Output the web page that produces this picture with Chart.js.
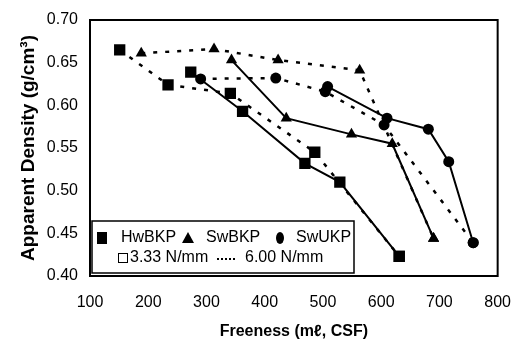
<!DOCTYPE html>
<html lang="en">
<head>
  <meta charset="UTF-8">
  <title>Apparent Density vs Freeness</title>
  <script src="https://cdn.jsdelivr.net/npm/chart.js"></script>
  <style>
    html, body { margin: 0; padding: 0; background: #fff; }
  </style>
</head>
<body>
  <canvas id="densityChart" width="520" height="344"></canvas>

  <script>
    // HwBKP
    const hw333Freeness = [273, 362, 469, 529, 631];
    const hw333Density  = [0.639, 0.593, 0.532, 0.510, 0.423];
    const hw600Freeness = [151, 234, 341, 486, 631];
    const hw600Density  = [0.665, 0.624, 0.614, 0.545, 0.423];
    // SwBKP
    const swb333Freeness = [343, 437, 549, 619, 690];
    const swb333Density  = [0.653, 0.585, 0.566, 0.555, 0.444];
    const swb600Freeness = [188, 313, 423, 563, 690];
    const swb600Density  = [0.661, 0.666, 0.653, 0.641, 0.444];
    // SwUKP
    const swu333Freeness = [508, 610, 681, 716, 758];
    const swu333Density  = [0.622, 0.585, 0.572, 0.534, 0.439];
    const swu600Freeness = [290, 419, 504, 605, 758];
    const swu600Density  = [0.631, 0.632, 0.616, 0.577, 0.439];

    const xTicks = [100, 200, 300, 400, 500, 600, 700, 800];
    const yTicks = [0.40, 0.45, 0.50, 0.55, 0.60, 0.65, 0.70];

    const FONT = "'Liberation Sans', Arial, sans-serif";

    function pts(xs, ys) {
      return xs.map((x, i) => ({ x: x, y: ys[i] }));
    }

    function serie(xs, ys, style, radius, dotted) {
      return {
        data: pts(xs, ys),
        borderColor: '#000',
        backgroundColor: '#000',
        borderWidth: dotted ? 2.5 : 2,
        borderDash: dotted ? [4, 8] : [],
        pointStyle: style,
        pointRadius: radius,
        pointBorderWidth: 0,
        pointBackgroundColor: '#000',
        showLine: true,
        tension: 0
      };
    }

    // box round the plot + legend box
    const frame = {
      id: 'frame',
      afterDatasetsDraw(chart) {
        const ctx = chart.ctx;
        const a = chart.chartArea;
        ctx.save();
        ctx.strokeStyle = '#000';
        ctx.lineWidth = 2;
        ctx.strokeRect(a.left, a.top, a.right - a.left, a.bottom - a.top);

        // legend
        ctx.fillStyle = '#fff';
        ctx.fillRect(92, 221, 262, 52);
        ctx.lineWidth = 1.5;
        ctx.strokeRect(92, 221, 262, 52);

        ctx.fillStyle = '#000';
        ctx.font = '16px ' + FONT;
        ctx.textBaseline = 'middle';
        const r1 = 238, r2 = 258;

        ctx.fillRect(97, r1 - 6, 10, 12);
        ctx.fillText('HwBKP', 121, r1);

        ctx.beginPath();
        ctx.moveTo(188, r1 - 6);
        ctx.lineTo(194, r1 + 5);
        ctx.lineTo(182, r1 + 5);
        ctx.closePath();
        ctx.fill();
        ctx.fillText('SwBKP', 206, r1);

        ctx.beginPath();
        ctx.ellipse(280, r1, 4, 6, 0, 0, Math.PI * 2);
        ctx.fill();
        ctx.fillText('SwUKP', 296, r1);

        ctx.lineWidth = 1;
        ctx.strokeRect(118.5, r2 - 4.5, 9, 9);
        ctx.fillText('3.33 N/mm', 130, r2);

        ctx.lineWidth = 2;
        ctx.setLineDash([2, 2]);
        ctx.beginPath();
        ctx.moveTo(217, r2 + 1);
        ctx.lineTo(237, r2 + 1);
        ctx.stroke();
        ctx.setLineDash([]);
        ctx.fillText('6.00 N/mm', 245, r2);
        ctx.restore();
      }
    };

    new Chart(document.getElementById('densityChart'), {
      type: 'scatter',
      data: {
        datasets: [
          serie(hw333Freeness, hw333Density, 'rect', 8, false),
          serie(hw600Freeness, hw600Density, 'rect', 8, true),
          serie(swb333Freeness, swb333Density, 'triangle', 6.5, false),
          serie(swb600Freeness, swb600Density, 'triangle', 6.5, true),
          serie(swu333Freeness, swu333Density, 'circle', 5.5, false),
          serie(swu600Freeness, swu600Density, 'circle', 5.5, true)
        ]
      },
      options: {
        responsive: false,
        animation: false,
        layout: { padding: { left: 0, right: 17, top: 20, bottom: 0 } },
        plugins: {
          legend: { display: false },
          tooltip: { enabled: false }
        },
        scales: {
          x: {
            type: 'linear',
            min: 100,
            max: 800,
            afterBuildTicks: s => { s.ticks = xTicks.map(v => ({ value: v })); },
            afterFit: s => { s.height = 68; },
            grid: { display: false },
            border: { display: false },
            ticks: {
              color: '#000',
              font: { family: FONT, size: 16 },
              padding: 9
            },
            title: {
              display: true,
              text: 'Freeness (m\u2113, CSF)',
              color: '#000',
              font: { family: FONT, size: 16, weight: 'bold' },
              padding: { top: 2, bottom: 3 }
            }
          },
          y: {
            min: 0.40,
            max: 0.70,
            afterBuildTicks: s => { s.ticks = yTicks.map(v => ({ value: v })); },
            afterFit: s => { s.width = 90; },
            grid: { display: false },
            border: { display: false },
            ticks: {
              color: '#000',
              font: { family: FONT, size: 16 },
              padding: 4,
              callback: v => v.toFixed(2)
            },
            title: {
              display: true,
              text: 'Apparent Density (g/cm\u00b3)',
              color: '#000',
              font: { family: FONT, size: 19, weight: 'bold' },
              padding: { top: 17, bottom: 0 }
            }
          }
        }
      },
      plugins: [frame]
    });
  </script>
</body>
</html>
